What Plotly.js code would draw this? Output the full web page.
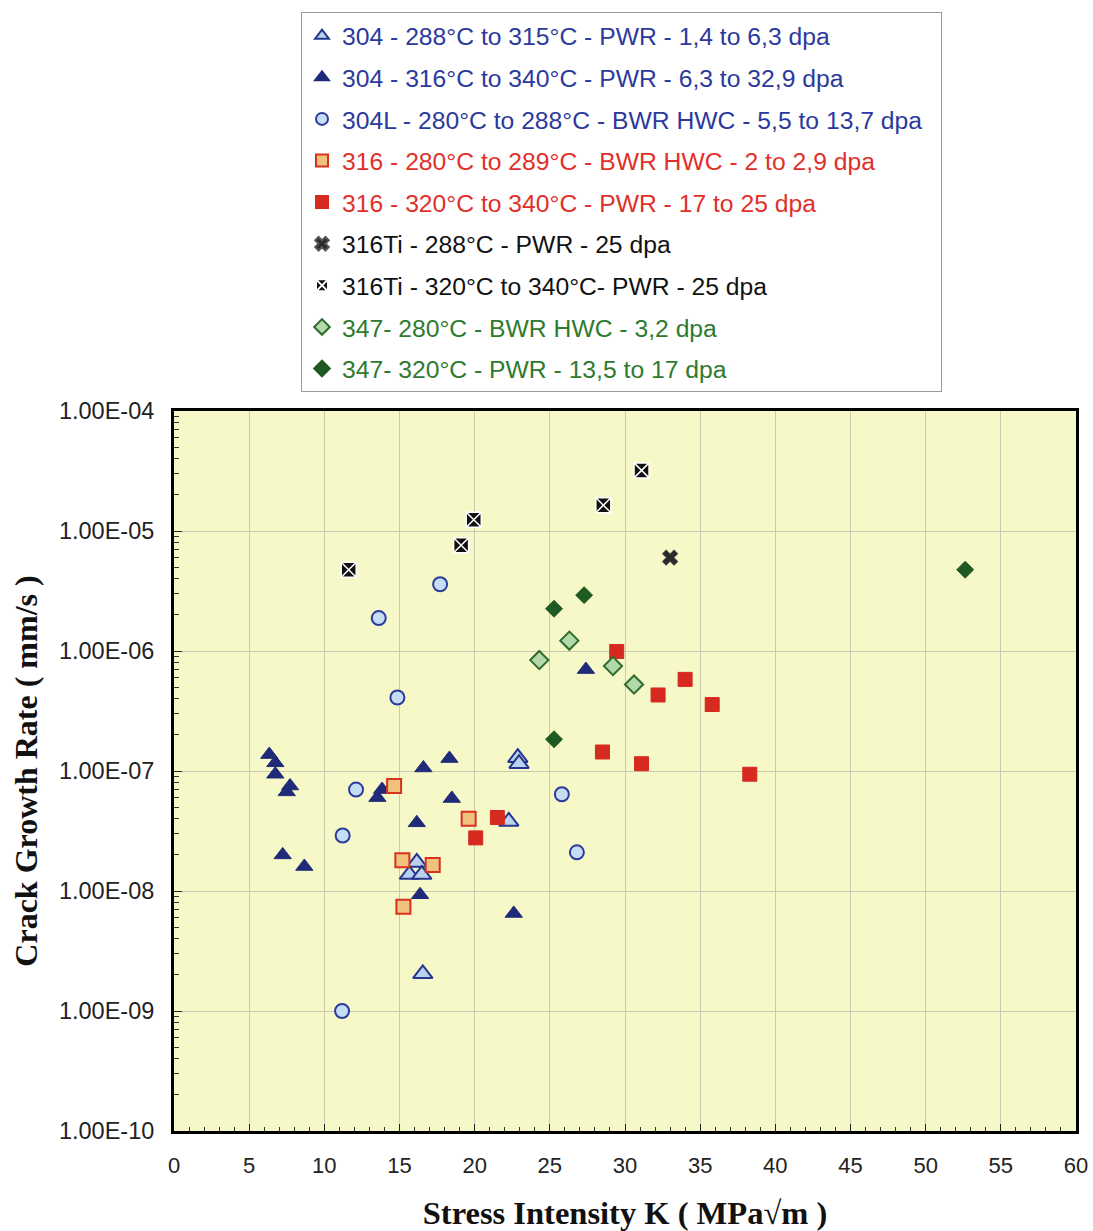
<!DOCTYPE html>
<html>
<head>
<meta charset="utf-8">
<script src="https://cdn.plot.ly/plotly-3.0.1.min.js"></script>
<style>html,body{margin:0;padding:0;background:#fff;}</style>
</head>
<body>
<div id="chart" style="width:1093px;height:1231px;"></div>
<script>
// --- Data ---
const names = [
  '304 - 288°C to 315°C - PWR - 1,4 to 6,3 dpa',
  '304 - 316°C to 340°C - PWR - 6,3 to 32,9 dpa',
  '304L - 280°C to 288°C - BWR HWC - 5,5 to 13,7 dpa',
  '316 - 280°C to 289°C - BWR HWC - 2 to 2,9 dpa',
  '316 - 320°C to 340°C - PWR - 17 to 25 dpa',
  '316Ti - 288°C - PWR - 25 dpa',
  '316Ti - 320°C to 340°C- PWR - 25 dpa',
  '347- 280°C - BWR HWC - 3,2 dpa',
  '347- 320°C - PWR - 13,5 to 17 dpa'
];

const k304a = [16.15, 15.66, 16.48, 16.55, 22.87, 22.95, 22.27];
const r304a = [1.73e-8, 1.37e-8, 1.37e-8, 2.04e-9, 1.29e-7, 1.15e-7, 3.8e-8];

const k304b = [6.34, 6.74, 6.74, 7.72, 7.5, 13.84, 13.53, 16.59, 18.32, 18.48, 16.15, 7.23, 8.67, 16.37, 27.4, 22.6];
const r304b = [1.37e-7, 1.17e-7, 9.4e-8, 7.5e-8, 6.7e-8, 7.0e-8, 6.0e-8, 1.06e-7, 1.27e-7, 5.9e-8, 3.7e-8, 2.0e-8, 1.6e-8, 9.3e-9, 7.0e-7, 6.5e-9];

const k304L = [12.11, 11.22, 11.18, 17.7, 13.62, 14.86, 25.8, 26.8];
const r304L = [7.0e-8, 2.9e-8, 1.0e-9, 3.6e-6, 1.88e-6, 4.1e-7, 6.4e-8, 2.1e-8];

const k316a = [14.64, 15.19, 17.21, 15.26, 19.6];
const r316a = [7.5e-8, 1.8e-8, 1.65e-8, 7.4e-9, 4.0e-8];

const k316b = [21.51, 20.07, 28.5, 31.1, 38.3, 29.45, 34.0, 32.2, 35.8];
const r316b = [4.1e-8, 2.77e-8, 1.44e-7, 1.15e-7, 9.4e-8, 9.9e-7, 5.8e-7, 4.3e-7, 3.58e-7];

const k316Ti288 = [33.0];
const r316Ti288 = [6.0e-6];

const k316Ti320 = [11.62, 19.1, 19.94, 28.56, 31.1];
const r316Ti320 = [4.76e-6, 7.6e-6, 1.24e-5, 1.64e-5, 3.2e-5];

const k347a = [26.3, 24.3, 29.2, 30.6];
const r347a = [1.22e-6, 8.4e-7, 7.5e-7, 5.25e-7];

const k347b = [25.28, 27.28, 25.28, 52.63];
const r347b = [2.25e-6, 2.92e-6, 1.84e-7, 4.76e-6];

const yTickVals = [1e-10, 1e-9, 1e-8, 1e-7, 1e-6, 1e-5, 1e-4];
const yTickText = ['1.00E-10', '1.00E-09', '1.00E-08', '1.00E-07', '1.00E-06', '1.00E-05', '1.00E-04'];
const xTickVals = [0, 5, 10, 15, 20, 25, 30, 35, 40, 45, 50, 55, 60];

// --- Styles ---
const blueTxt = '#2b3a9c', redTxt = '#e0302a', blackTxt = '#111111', greenTxt = '#2e7a2e';
function lab(name, c, pad) { return '<span style="color:' + c + '">' + name + '</span>' + (pad || ''); }

const series = [
  {x: k304a, y: r304a, name: lab(names[0], blueTxt), marker: {symbol: 'triangle-up', size: 17, color: '#b9d3ef', line: {color: '#27358f', width: 2}}},
  {x: k304b, y: r304b, name: lab(names[1], blueTxt), marker: {symbol: 'triangle-up', size: 15, color: '#1f2b78', line: {color: '#1f2b78', width: 1}}},
  {x: k304L, y: r304L, name: lab(names[2], blueTxt, '&nbsp;&nbsp;'), marker: {symbol: 'circle', size: 14, color: '#c6ddf6', line: {color: '#2b3a9c', width: 2}}},
  {x: k316a, y: r316a, name: lab(names[3], redTxt), marker: {symbol: 'square', size: 14, color: '#efc27e', line: {color: '#d8321f', width: 2}}},
  {x: k316b, y: r316b, name: lab(names[4], redTxt), marker: {symbol: 'square', size: 14, color: '#d62a20', line: {color: '#d62a20', width: 1}}},
  {x: k316Ti288, y: r316Ti288, name: lab(names[5], blackTxt), marker: {symbol: 'x', size: 14, color: '#2a2a2a', line: {color: '#555', width: 0.5}}},
  {x: k316Ti320, y: r316Ti320, name: lab(names[6], blackTxt), marker: {symbol: 'square-x', size: 15, color: '#111111', line: {color: '#ffffff', width: 1.5}}},
  {x: k347a, y: r347a, name: lab(names[7], greenTxt), marker: {symbol: 'diamond', size: 14, color: '#b3d9a8', line: {color: '#2e6b2e', width: 2}}},
  {x: k347b, y: r347b, name: lab(names[8], greenTxt), marker: {symbol: 'diamond', size: 13, color: '#1e5a22', line: {color: '#1e5a22', width: 1}}}
];

const traces = series.map((s, i) => Object.assign({type: 'scatter', mode: 'markers', legendgroup: 'g' + i, cliponaxis: false}, s));

const layout = {
  width: 1093, height: 1231,
  margin: {l: 174, r: 17, t: 409, b: 100},
  paper_bgcolor: '#ffffff',
  plot_bgcolor: '#f6f8c8',
  font: {family: 'Liberation Sans, Arial, sans-serif', color: '#222'},
  showlegend: true,
  legend: {
    x: 0.1408, xanchor: 'left', y: 1.554, yanchor: 'top',
    bgcolor: '#ffffff', bordercolor: '#9a9a9a', borderwidth: 1,
    font: {family: 'Liberation Sans, Arial, sans-serif', size: 24.7},
    tracegroupgap: 6.5, traceorder: 'grouped', itemsizing: 'constant'
  },
  xaxis: {
    range: [0, 60], tickvals: xTickVals, ticktext: xTickVals.map(String),
    showgrid: true, gridcolor: '#c9cbb0', gridwidth: 1, zeroline: false,
    showline: true, linecolor: '#000', linewidth: 3, mirror: true,
    ticks: 'inside', ticklen: 7, tickcolor: '#222', tickwidth: 1,
    minor: {dtick: 1, ticks: 'inside', ticklen: 4, tickcolor: '#333', showgrid: false},
    tickfont: {family: 'Liberation Sans, Arial, sans-serif', size: 22, color: '#222'},
    ticklabelstandoff: 13,
    title: {text: 'Stress Intensity K ( MPa√m )', font: {family: 'Liberation Serif, Times New Roman, serif', size: 32.5, color: '#111', weight: 'bold'}, standoff: 24},
    automargin: false
  },
  yaxis: {
    type: 'log', range: [-10, -4], tickvals: yTickVals, ticktext: yTickText,
    showgrid: true, gridcolor: '#c9cbb0', gridwidth: 1, zeroline: false,
    showline: true, linecolor: '#000', linewidth: 3, mirror: true,
    ticks: 'inside', ticklen: 8, tickcolor: '#222', tickwidth: 1,
    minor: {dtick: 'D1', ticks: 'inside', ticklen: 5, tickcolor: '#333', showgrid: false},
    tickfont: {family: 'Liberation Sans, Arial, sans-serif', size: 23.5, color: '#222'},
    ticklabelstandoff: 12,
    title: {text: 'Crack Growth Rate ( mm/s )', font: {family: 'Liberation Serif, Times New Roman, serif', size: 32, color: '#111', weight: 'bold'}, standoff: 12},
    automargin: false
  }
};

Plotly.newPlot('chart', traces, layout, {displayModeBar: false, staticPlot: true});
</script>
</body>
</html>
